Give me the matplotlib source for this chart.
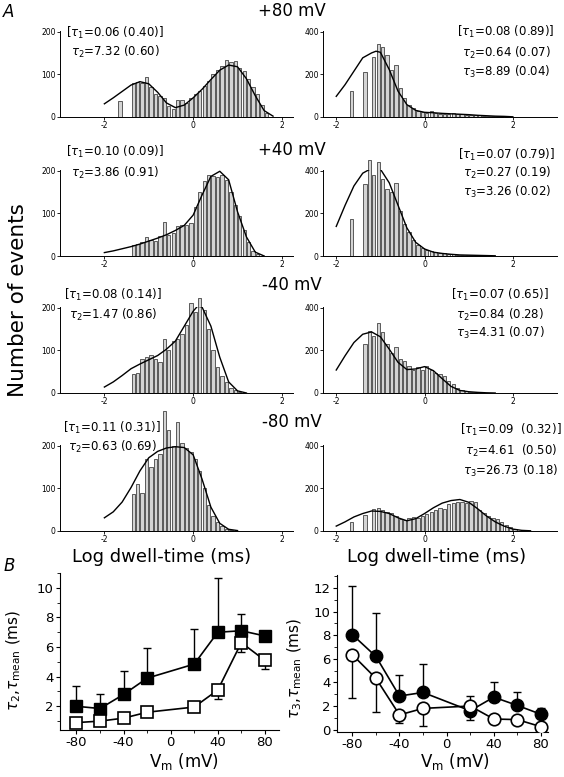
"""Dwell-time histograms at four voltages (A) and time constants vs Vm (B)."""

import matplotlib
matplotlib.use("Agg")
import matplotlib.pyplot as plt
from matplotlib.ticker import MultipleLocator

W, H = 564, 777
plt.rcParams["axes.unicode_minus"] = False
plt.rcParams["mathtext.fontset"] = "dejavusans"

# ---------------- panel A data (log10 dwell-time, counts) ----------------
voltages = ["+80 mV", "+40 mV", "-40 mV", "-80 mV"]

# left column
bins_l80 = [-1.65, -1.35, -1.25, -1.15, -1.05, -0.95, -0.85, -0.75, -0.65, -0.55, -0.45, -0.35,
            -0.25, -0.15, -0.05, 0.05, 0.15, 0.25, 0.35, 0.45, 0.55, 0.65, 0.75, 0.85, 0.95,
            1.05, 1.15, 1.25, 1.35, 1.45, 1.55, 1.65]
counts_l80 = [37, 80, 82, 80, 94, 70, 55, 50, 45, 25, 19, 41, 40, 33, 45, 55, 62, 72, 84, 100,
              111, 120, 133, 130, 131, 115, 107, 90, 70, 53, 29, 9]
fitx_l80 = [-2.0, -1.8, -1.6, -1.4, -1.2, -1.0, -0.8, -0.6, -0.4, -0.2, 0.0, 0.2, 0.4, 0.6,
            0.8, 1.0, 1.2, 1.4, 1.6, 1.8]
fity_l80 = [31, 45, 60, 75, 83, 78, 58, 33, 22, 28, 45, 65, 88, 110, 122, 118, 90, 50, 15, 2]

bins_l40 = [-1.35, -1.25, -1.15, -1.05, -0.95, -0.85, -0.75, -0.65, -0.55, -0.45, -0.35, -0.25,
            -0.15, -0.05, 0.05, 0.15, 0.25, 0.35, 0.45, 0.55, 0.65, 0.75, 0.85, 0.95, 1.05,
            1.15, 1.25, 1.35, 1.45]
counts_l40 = [25, 28, 33, 45, 38, 35, 48, 80, 50, 55, 70, 72, 72, 78, 115, 150, 175, 190, 188,
              185, 190, 178, 150, 120, 95, 60, 32, 12, 5]
fitx_l40 = [-2.0, -1.8, -1.6, -1.4, -1.2, -1.0, -0.8, -0.6, -0.4, -0.2, 0.0, 0.2, 0.4, 0.6,
            0.8, 1.0, 1.2, 1.4, 1.6]
fity_l40 = [8, 12, 17, 22, 28, 35, 42, 50, 60, 72, 96, 143, 187, 199, 179, 104, 45, 9, 0]

bins_lm40 = [-1.35, -1.25, -1.15, -1.05, -0.95, -0.85, -0.75, -0.65, -0.55, -0.45, -0.35, -0.25,
             -0.15, -0.05, 0.05, 0.15, 0.25, 0.35, 0.45, 0.55, 0.65, 0.75, 0.85, 0.95, 1.05]
counts_lm40 = [45, 47, 80, 84, 90, 80, 72, 128, 100, 122, 128, 138, 160, 212, 190, 222, 195,
               150, 100, 62, 40, 25, 12, 6, 2]
fitx_lm40 = [-2.0, -1.8, -1.6, -1.4, -1.2, -1.0, -0.8, -0.6, -0.4, -0.2, 0.0, 0.1, 0.2, 0.4,
             0.6, 0.8, 1.0, 1.2]
fity_lm40 = [14, 26, 41, 57, 68, 78, 88, 103, 122, 157, 192, 204, 202, 157, 84, 26, 5, 0]

bins_lm80 = [-1.35, -1.25, -1.15, -1.05, -0.95, -0.85, -0.75, -0.65, -0.55, -0.45, -0.35, -0.25,
             -0.15, -0.05, 0.05, 0.15, 0.25, 0.35, 0.45, 0.55, 0.65, 0.75, 0.85]
counts_lm80 = [87, 110, 90, 168, 150, 168, 180, 282, 237, 200, 255, 207, 195, 185, 170, 140,
               100, 60, 35, 22, 12, 5, 2]
fitx_lm80 = [-2.0, -1.8, -1.6, -1.4, -1.2, -1.0, -0.8, -0.6, -0.4, -0.2, 0.0, 0.2, 0.4, 0.6,
             0.8, 1.0]
fity_lm80 = [31, 45, 68, 102, 141, 172, 187, 195, 198, 196, 179, 122, 56, 18, 4, 1]

# right column
bins_r80 = [-1.65, -1.35, -1.15, -1.05, -0.95, -0.85, -0.75, -0.65, -0.55, -0.45, -0.35, -0.25,
            -0.15, -0.05, 0.05, 0.15, 0.25, 0.35, 0.45, 0.55, 0.65, 0.75, 0.85, 0.95, 1.05,
            1.15, 1.25, 1.35, 1.45, 1.55, 1.65, 1.75, 1.85, 1.95]
counts_r80 = [120, 210, 280, 345, 330, 290, 220, 245, 135, 90, 55, 40, 30, 25, 20, 28, 18, 15,
              14, 13, 18, 16, 12, 10, 10, 9, 8, 7, 6, 5, 5, 4, 3, 2]
fitx_r80 = [-2.0, -1.8, -1.6, -1.4, -1.2, -1.1, -1.0, -0.8, -0.6, -0.4, -0.2, 0.0, 0.2, 0.4,
            0.6, 0.8, 1.0, 1.2, 1.4, 1.6, 1.8, 2.0]
fity_r80 = [97, 152, 215, 278, 301, 309, 304, 223, 121, 58, 31, 22, 20, 17, 15, 13, 11, 8, 6,
            4, 3, 1]

bins_r40 = [-1.65, -1.35, -1.25, -1.15, -1.05, -0.95, -0.85, -0.75, -0.65, -0.55, -0.45, -0.35,
            -0.25, -0.15, -0.05, 0.05, 0.15, 0.25, 0.35, 0.45, 0.55, 0.65, 0.75, 0.85, 0.95,
            1.05, 1.15, 1.25, 1.35, 1.45]
counts_r40 = [174, 336, 450, 380, 442, 360, 314, 300, 344, 210, 150, 115, 75, 50, 38, 30, 22,
              18, 15, 12, 10, 8, 7, 6, 5, 4, 4, 3, 3, 2]
fitx_r40 = [-2.0, -1.8, -1.6, -1.4, -1.2, -1.1, -1.0, -0.8, -0.6, -0.4, -0.2, 0.0, 0.2, 0.4,
            0.6, 0.8, 1.0, 1.2, 1.4, 1.6]
fity_r40 = [139, 238, 329, 389, 412, 415, 408, 344, 238, 132, 64, 33, 18, 12, 8, 5, 4, 3, 2, 1]

bins_rm40 = [-1.35, -1.25, -1.15, -1.05, -0.95, -0.85, -0.75, -0.65, -0.55, -0.45, -0.35, -0.25,
             -0.15, -0.05, 0.05, 0.15, 0.25, 0.35, 0.45, 0.55, 0.65, 0.75, 0.85, 0.95, 1.05,
             1.15]
counts_rm40 = [229, 291, 270, 327, 288, 230, 190, 214, 160, 150, 125, 110, 120, 110, 125, 110,
               95, 88, 80, 55, 40, 25, 15, 8, 5, 3]
fitx_rm40 = [-2.0, -1.8, -1.6, -1.4, -1.2, -1.0, -0.8, -0.6, -0.4, -0.2, 0.0, 0.2, 0.4, 0.6,
             0.8, 1.0, 1.2, 1.4, 1.6]
fity_rm40 = [108, 175, 237, 276, 287, 264, 206, 144, 110, 113, 124, 105, 67, 31, 12, 6, 3, 1, 0]

bins_rm80 = [-1.65, -1.35, -1.15, -1.05, -0.95, -0.85, -0.75, -0.65, -0.55, -0.45, -0.35, -0.25,
             -0.15, -0.05, 0.05, 0.15, 0.25, 0.35, 0.45, 0.55, 0.65, 0.75, 0.85, 0.95, 1.05,
             1.15, 1.25, 1.35, 1.45, 1.55, 1.65, 1.75, 1.85, 1.95, 2.05]
counts_rm80 = [43, 74, 105, 110, 100, 90, 85, 70, 55, 50, 60, 65, 62, 70, 80, 90, 100, 110, 105,
               125, 132, 138, 135, 130, 143, 135, 100, 85, 70, 62, 55, 42, 30, 18, 8]
fitx_rm80 = [-2.0, -1.8, -1.6, -1.4, -1.2, -1.0, -0.8, -0.6, -0.4, -0.2, 0.0, 0.2, 0.4, 0.6,
             0.8, 1.0, 1.2, 1.4, 1.6, 1.8, 2.0, 2.2, 2.4]
fity_rm80 = [23, 43, 66, 82, 94, 92, 82, 62, 48, 58, 82, 109, 131, 143, 148, 135, 105, 71, 43,
             23, 9, 3, 1]

ann_left = [
    ["[$\\tau_1$=0.06 (0.40)]", "$\\tau_2$=7.32 (0.60)"],
    ["[$\\tau_1$=0.10 (0.09)]", "$\\tau_2$=3.86 (0.91)"],
    ["[$\\tau_1$=0.08 (0.14)]", "$\\tau_2$=1.47 (0.86)"],
    ["[$\\tau_1$=0.11 (0.31)]", "$\\tau_2$=0.63 (0.69)"],
]
ann_right = [
    ["[$\\tau_1$=0.08 (0.89)]", "$\\tau_2$=0.64 (0.07)", "$\\tau_3$=8.89 (0.04)"],
    ["[$\\tau_1$=0.07 (0.79)]", "$\\tau_2$=0.27 (0.19)", "$\\tau_3$=3.26 (0.02)"],
    ["[$\\tau_1$=0.07 (0.65)]", "$\\tau_2$=0.84 (0.28)", "$\\tau_3$=4.31 (0.07)"],
    ["[$\\tau_1$=0.09  (0.32)]", "$\\tau_2$=4.61  (0.50)", "$\\tau_3$=26.73 (0.18)"],
]

# ---------------- panel B data ----------------
vm = [-80, -60, -40, -20, 20, 40, 60, 80]
tau2 = [2.0, 1.85, 2.8, 3.9, 4.85, 7.0, 7.1, 6.75]
tau2_up = [1.4, 1.0, 1.55, 2.05, 2.35, 3.65, 1.15, 0.0]
tau2_lo = [0, 0, 0, 0, 0, 0, 0, 0]
tmean2 = [0.9, 1.0, 1.2, 1.6, 1.95, 3.1, 6.3, 5.1]
tmean2_up = [0, 0, 0, 0, 0, 0, 0, 0]
tmean2_lo = [0, 0, 0, 0, 0, 0.6, 0.65, 0.55]

tau3 = [8.05, 6.2, 2.85, 3.15, 1.6, 2.75, 2.05, 1.3]
tau3_up = [4.15, 3.65, 1.8, 2.4, 0, 1.25, 1.15, 0.5]
tau3_lo = [0, 0, 0, 0, 0.8, 0, 0, 0]
tmean3 = [6.35, 4.35, 1.25, 1.8, 2.0, 0.9, 0.85, 0.25]
tmean3_up = [0, 0, 0, 0, 0.85, 0, 0, 0]
tmean3_lo = [3.7, 2.85, 0.65, 1.45, 0, 0, 0, 0]


def axes_px(fig, x0, y0, x1, y1):
    return fig.add_axes([x0 / W, 1 - y1 / H, (x1 - x0) / W, (y1 - y0) / H])


def fpos(x, y):
    return x / W, 1 - y / H


def hist_panel(ax, bins, counts, fx, fy, xlim, ymax, yticks):
    ax.bar(bins, counts, width=0.075, color="#d4d4d4", edgecolor="#222222",
           linewidth=0.5, clip_on=False, zorder=2)
    ax.plot(fx, fy, color="black", lw=1.0, zorder=3)
    ax.set_xlim(xlim)
    ax.set_ylim(0, ymax)
    ax.set_xticks([-2, 0, 2])
    ax.set_yticks(yticks)
    for s in ("top", "right"):
        ax.spines[s].set_visible(False)
    for s in ("left", "bottom"):
        ax.spines[s].set_linewidth(0.7)
    ax.tick_params(labelsize=5.5, length=2, width=0.6, pad=1)


fig = plt.figure(figsize=(W / 100, H / 100), dpi=100)

rows_px = [(31, 117), (170, 256), (307, 393), (445, 531)]
left_data = [(bins_l80, counts_l80, fitx_l80, fity_l80),
             (bins_l40, counts_l40, fitx_l40, fity_l40),
             (bins_lm40, counts_lm40, fitx_lm40, fity_lm40),
             (bins_lm80, counts_lm80, fitx_lm80, fity_lm80)]
right_data = [(bins_r80, counts_r80, fitx_r80, fity_r80),
              (bins_r40, counts_r40, fitx_r40, fity_r40),
              (bins_rm40, counts_rm40, fitx_rm40, fity_rm40),
              (bins_rm80, counts_rm80, fitx_rm80, fity_rm80)]

title_y = [11, 150, 285, 422]
ann_left_pos = [(115, [33, 52]), (115, [152, 173]), (113, [295, 315]), (112, [428, 447])]
ann_right_pos = [(506, [32, 53, 72]), (507, [155, 173, 192]), (500, [295, 315, 333]),
                 (511, [430, 451, 471])]

for i, (top, bot) in enumerate(rows_px):
    axl = axes_px(fig, 60, top, 293, bot)
    hist_panel(axl, *left_data[i], xlim=(-3.0, 2.25), ymax=202, yticks=[0, 100, 200])
    axr = axes_px(fig, 323, top, 557, bot)
    hist_panel(axr, *right_data[i], xlim=(-2.3, 3.0), ymax=404, yticks=[0, 200, 400])

    fig.text(*fpos(292, title_y[i]), voltages[i], fontsize=12, ha="center", va="center")
    cx, ys = ann_left_pos[i]
    for line, y in zip(ann_left[i], ys):
        fig.text(*fpos(cx, y), line, fontsize=8.5, ha="center", va="center")
    cx, ys = ann_right_pos[i]
    for line, y in zip(ann_right[i], ys):
        fig.text(*fpos(cx, y), line, fontsize=8.5, ha="center", va="center")

fig.text(*fpos(18, 300), "Number of events", fontsize=15.5, rotation=90,
         ha="center", va="center")
fig.text(*fpos(162, 557), "Log dwell-time (ms)", fontsize=13, ha="center", va="center")
fig.text(*fpos(437, 557), "Log dwell-time (ms)", fontsize=13, ha="center", va="center")
fig.text(*fpos(9, 12), "A", fontsize=12, style="italic", ha="center", va="center")
fig.text(*fpos(9, 566), "B", fontsize=12, style="italic", ha="center", va="center")


def b_panel(ax, filled, f_lo, f_up, opened, o_lo, o_up, marker):
    ax.errorbar(vm, filled, yerr=[f_lo, f_up], fmt="none", ecolor="black",
                elinewidth=1.0, capsize=3, capthick=1.0, zorder=1)
    ax.errorbar(vm, opened, yerr=[o_lo, o_up], fmt="none", ecolor="black",
                elinewidth=1.0, capsize=3, capthick=1.0, zorder=1)
    ax.plot(vm, filled, color="black", lw=1.2, marker=marker, ms=9,
            mfc="black", mec="black", zorder=3)
    ax.plot(vm, opened, color="black", lw=1.2, marker=marker, ms=9,
            mfc="white", mec="black", mew=1.2, zorder=4)
    for s in ("top", "right"):
        ax.spines[s].set_visible(False)
    ax.set_xticks([-80, -40, 0, 40, 80])
    ax.xaxis.set_minor_locator(MultipleLocator(20))
    ax.yaxis.set_minor_locator(MultipleLocator(1))
    ax.tick_params(labelsize=9.5, length=3, width=0.8, pad=1.5)
    ax.tick_params(which="minor", length=2, width=0.6)


axb1 = axes_px(fig, 60, 573, 279, 730)
b_panel(axb1, tau2, tau2_lo, tau2_up, tmean2, tmean2_lo, tmean2_up, "s")
axb1.set_xlim(-94, 92)
axb1.set_ylim(0.4, 11)
axb1.set_yticks([2, 4, 6, 8, 10])

axb2 = axes_px(fig, 337, 575, 548, 732)
b_panel(axb2, tau3, tau3_lo, tau3_up, tmean3, tmean3_lo, tmean3_up, "o")
axb2.set_xlim(-93, 86)
axb2.set_ylim(-0.2, 13.1)
axb2.set_yticks([0, 2, 4, 6, 8, 10, 12])

fig.text(*fpos(14, 660), "$\\tau_2$,$\\tau_\\mathrm{mean}$ (ms)", fontsize=11, rotation=90,
         ha="center", va="center")
fig.text(*fpos(295, 668), "$\\tau_3$,$\\tau_\\mathrm{mean}$ (ms)", fontsize=11, rotation=90,
         ha="center", va="center")
fig.text(*fpos(184, 762), "V$_\\mathrm{m}$ (mV)", fontsize=12, ha="center", va="center")
fig.text(*fpos(455, 762), "V$_\\mathrm{m}$ (mV)", fontsize=12, ha="center", va="center")

fig.savefig("out.png", dpi=100)
